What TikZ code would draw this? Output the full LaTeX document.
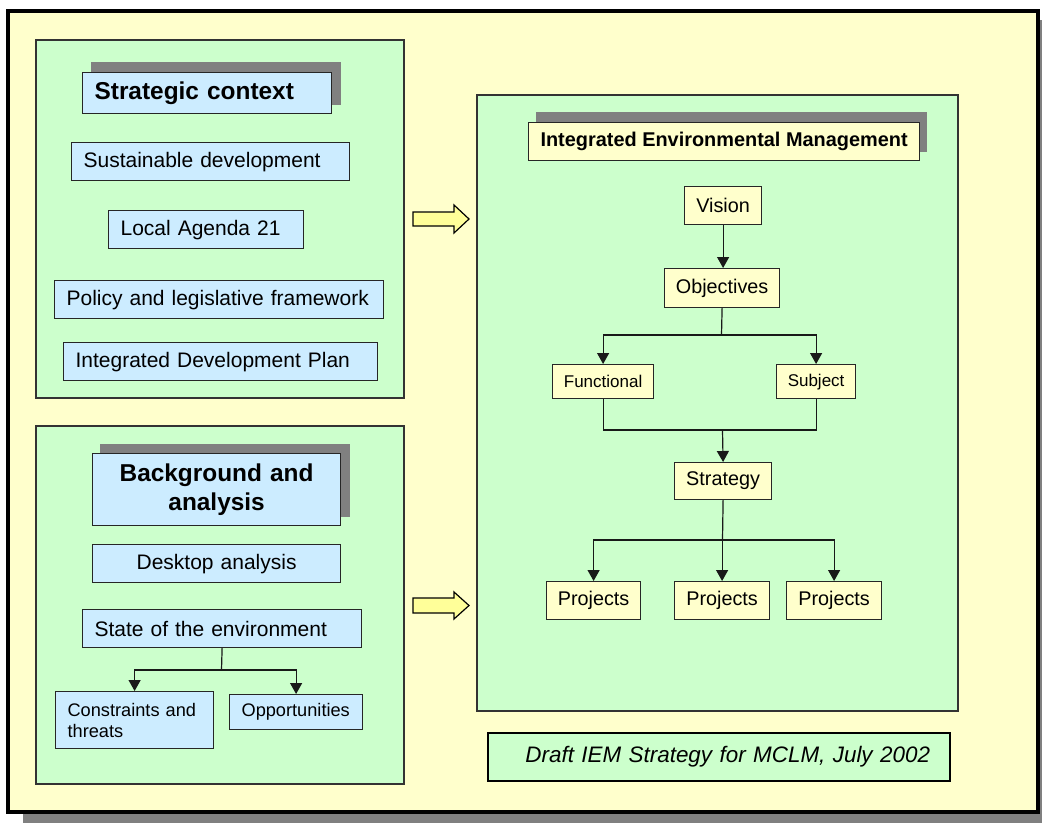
\documentclass[tikz,border=0pt]{standalone}
\usepackage{fontspec}
\setmainfont{Liberation Sans}
\usetikzlibrary{arrows.meta}
\definecolor{bgyel}{HTML}{FFFFCC}
\definecolor{grn}{HTML}{CCFFCC}
\definecolor{blu}{HTML}{CCECFF}
\definecolor{shd}{HTML}{808080}
\definecolor{arrfill}{HTML}{FFFF99}
\begin{document}
\begin{tikzpicture}[x=1pt,y=-1pt,
  bx/.style={draw=black!85, line width=1.2pt, inner ysep=0pt, anchor=north west},
  lb/.style={bx, fill=blu, inner xsep=12pt, align=left, font=\fontsize{21}{25}\selectfont},
  yb/.style={bx, fill=bgyel, inner xsep=0pt, align=center, font=\fontsize{19.8}{24}\selectfont},
  conn/.style={line width=1.2pt, draw=black!90},
  arw/.style={conn, -{Triangle[width=12pt,length=11pt]}},
  panel/.style={fill=grn, draw=black!80, line width=1.2pt},
  shadowbox/.style={fill=shd, draw=none},
  blockarrow/.style={fill=arrfill, draw=black, line width=1.2pt, line join=miter}]
\useasboundingbox (0,0) rectangle (1042,823);
% outer frame
\fill[shd] (23,20) rectangle (1042,823);
\draw[fill=bgyel, draw=black, line width=3.5pt] (8,11) rectangle (1038,812);
% panels
\draw[panel] (36,40) rectangle (404,398);
\draw[panel] (36,426) rectangle (404,784);
\draw[panel] (477,95) rectangle (958,711);
% shadows
\fill[shadowbox] (91,62) rectangle (341,105);
\fill[shadowbox] (100,444) rectangle (350,517);
\fill[shadowbox] (536,112) rectangle (927,152);
% left top panel
\node[lb, text width=225pt, minimum height=41pt, font=\fontsize{24.4}{29}\selectfont\bfseries] (sc) at (82,72) {Strategic context};
\node[lb, text width=254pt, minimum height=38pt] (sd) at (71,142) {Sustainable development};
\node[lb, text width=171pt, minimum height=38pt] (la) at (108,210) {Local Agenda 21};
\node[lb, text width=305pt, minimum height=38pt] (pl) at (54,280) {Policy and legislative framework};
\node[lb, text width=290pt, minimum height=38pt] (idp) at (63,342) {Integrated Development Plan};
% left bottom panel
\node[bx, fill=blu, inner xsep=0pt, text width=248pt, align=center, minimum height=72pt, font=\fontsize{24.4}{29}\selectfont\bfseries] (ba) at (92,453) {Background and\\analysis};
\node[bx, fill=blu, inner xsep=0pt, text width=248pt, align=center, minimum height=38pt, font=\fontsize{21}{25}\selectfont] (da) at (92,544) {Desktop analysis};
\node[lb, text width=255pt, minimum height=38pt] (se) at (82,609) {State of the environment};
\node[lb, text width=134pt, minimum height=57pt, font=\fontsize{18.2}{21}\selectfont] (ct) at (55,691) {Constraints and\\threats};
\node[lb, text width=109pt, minimum height=35pt, font=\fontsize{18.2}{21}\selectfont] (op) at (229,694) {Opportunities};
\coordinate (j4) at (221.5,670);
\draw[conn] (se.south) -- (j4);
\draw[arw] (j4) -| (ct.north);
\draw[arw] (j4) -| (op.north);
% block arrows
\draw[blockarrow] (413,212) -- (454,212) -- (454,205) -- (469,219) -- (454,233) -- (454,226) -- (413,226) -- cycle;
\draw[blockarrow] (413,598) -- (454,598) -- (454,592) -- (469,605.5) -- (454,619) -- (454,613) -- (413,613) -- cycle;
% right panel
\node[yb, minimum width=391pt, minimum height=38pt, font=\fontsize{19.9}{24}\selectfont\bfseries] (iem) at (528,122) {Integrated Environmental Management};
\node[yb, minimum width=77pt, minimum height=38pt] (vis) at (684,186) {Vision};
\node[yb, minimum width=115pt, minimum height=39pt] (obj) at (664,268) {Objectives};
\node[yb, minimum width=101pt, minimum height=34pt, font=\fontsize{17}{20}\selectfont] (fun) at (552,364) {Functional};
\node[yb, minimum width=79pt, minimum height=34pt, font=\fontsize{17}{20}\selectfont] (sub) at (776,364) {Subject};
\node[yb, minimum width=97pt, minimum height=37pt] (str) at (674,462) {Strategy};
\node[yb, minimum width=94pt, minimum height=38pt] (p1) at (546,581) {Projects};
\node[yb, minimum width=95pt, minimum height=38pt] (p2) at (674,581) {Projects};
\node[yb, minimum width=95pt, minimum height=38pt] (p3) at (786,581) {Projects};
\draw[arw] (vis.south) -- (vis.south |- obj.north);
\coordinate (j1) at (721.5,335);
\draw[conn] (obj.south) -- (j1);
\draw[arw] (j1) -| (fun.north);
\draw[arw] (j1) -| (sub.north);
\coordinate (j2) at (722.5,430);
\draw[conn] (fun.south) |- (j2);
\draw[conn] (sub.south) |- (j2);
\draw[arw] (j2) -- (str.north);
\coordinate (j3) at (722.5,540);
\draw[conn] (str.south) -- (j3);
\draw[arw] (j3) -| (p1.north);
\draw[arw] (j3) -- (j3 -| p2.north) -- (p2.north);
\draw[arw] (j3) -| (p3.north);
% caption box
\node[bx, fill=grn, draw=black, line width=2pt, minimum height=48pt, text width=422pt, inner xsep=20pt, align=right, font=\fontsize{22.4}{27}\selectfont\itshape] (dr) at (487,732) {Draft IEM Strategy for MCLM, July 2002};
\end{tikzpicture}
\end{document}
